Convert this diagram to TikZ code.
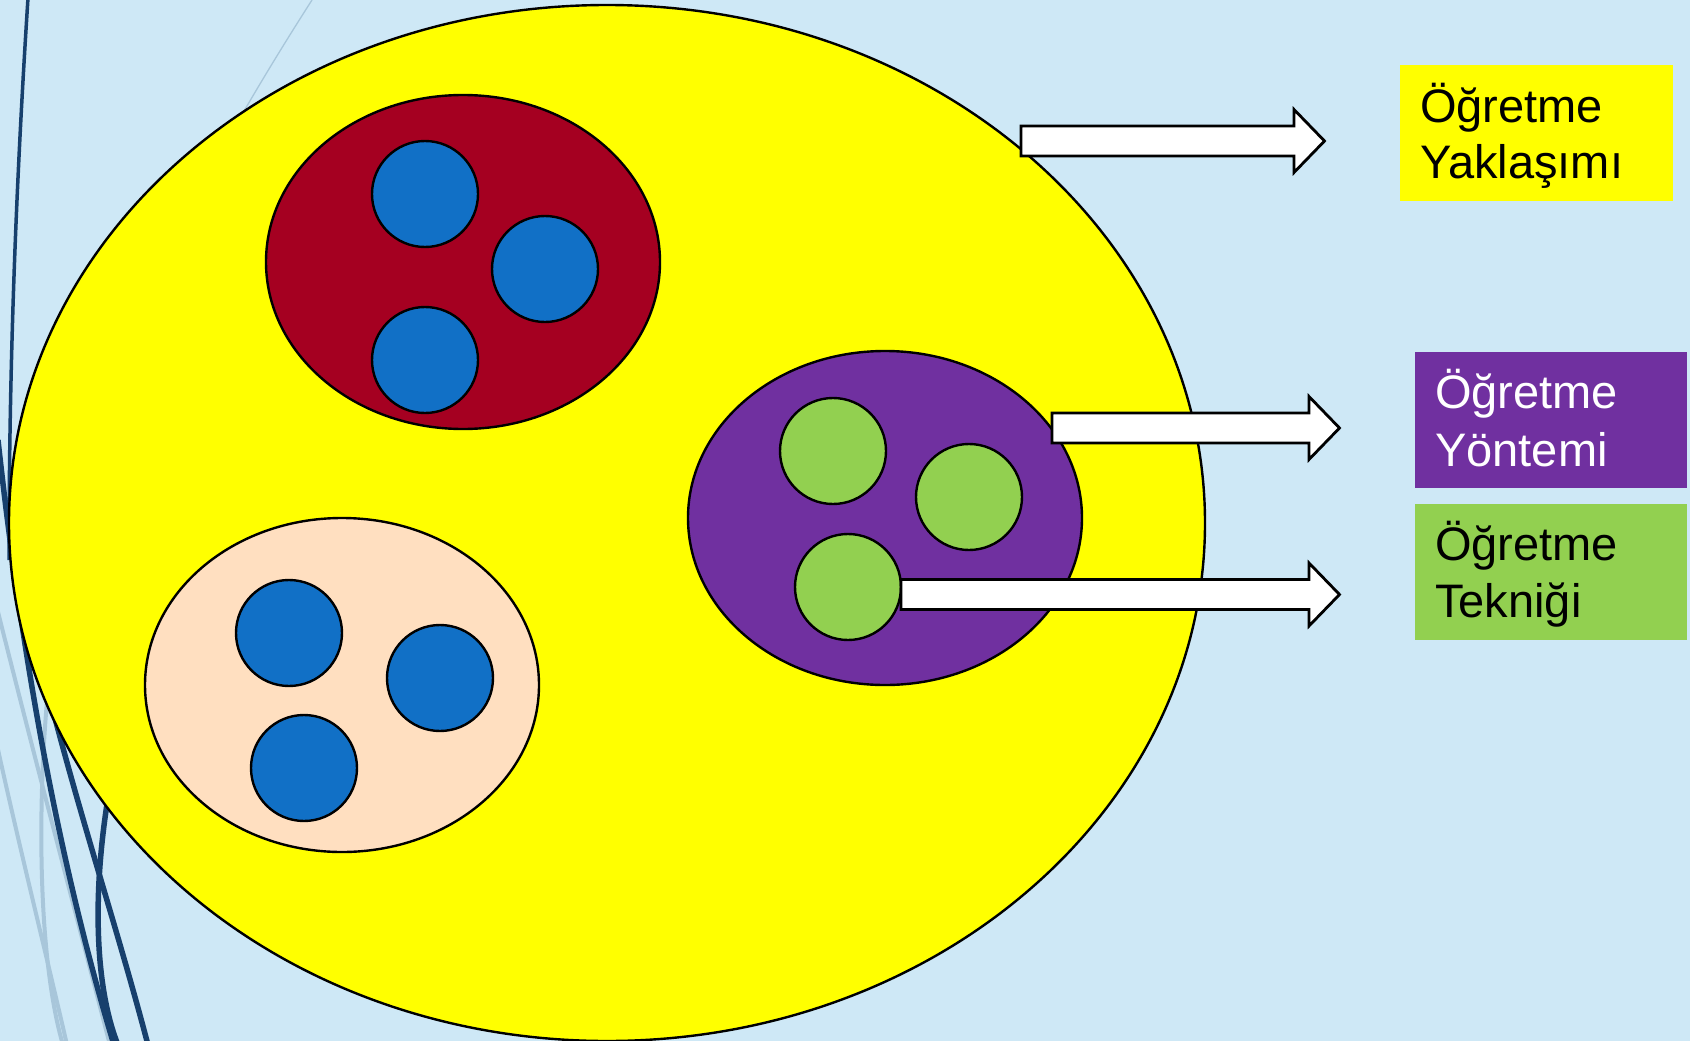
\documentclass[tikz,border=0pt]{standalone}
\usepackage{fontspec}
\setmainfont{Liberation Sans}
\usetikzlibrary{shapes.geometric}
\definecolor{bgblue}{RGB}{206,232,246}
\definecolor{navy}{RGB}{23,64,109}
\definecolor{wisp}{RGB}{168,198,218}
\definecolor{ylw}{RGB}{255,255,0}
\definecolor{wine}{RGB}{165,0,33}
\definecolor{peach}{RGB}{255,223,192}
\definecolor{plum}{RGB}{112,48,160}
\definecolor{leaf}{RGB}{146,208,80}
\definecolor{dotblue}{RGB}{17,112,198}
\tikzset{
  group/.style={ellipse, draw=black, line width=2.4pt, inner sep=0pt, minimum width=394pt, minimum height=334pt},
  ball/.style={circle, draw=black, line width=2.4pt, inner sep=0pt, minimum size=106pt},
  blockarrow/.style={draw=black, fill=white, line width=2.8pt, line join=miter},
  labelbox/.style={rectangle, inner sep=0pt, minimum width=273pt, minimum height=136pt, anchor=north west},
  labeltext/.style={anchor=base west, inner sep=0pt, font=\fontsize{47}{57}\selectfont},
  wispnavy/.style={draw=navy, line width=5.5pt},
  wisplight/.style={draw=wisp, line width=4pt},
}
\newcommand{\blockarrowpath}[2]{(#1) ++(0,-15) -- ++(#2,0) -- ++(0,-16.5) -- ++(30.5,31.5) -- ++(-30.5,31.5) -- ++(0,-16.5) -- ++(-#2,0) -- cycle}
\begin{document}
\begin{tikzpicture}[x=1pt,y=-1pt]
\useasboundingbox (0,0) rectangle (1690,1041);
\clip (0,0) rectangle (1690,1041);
\fill[bgblue] (0,0) rectangle (1690,1041);

% decorative wisps (behind the big ellipse)
\draw[wisp, line width=1.3pt] (312,0) .. controls (280,50) and (240,115) .. (200,190);
\draw[navy, line width=3.5pt] (28,-2) .. controls (15,200) and (9,380) .. (9,560);
\draw[wisplight] (-5,600) .. controls (30,740) and (80,930) .. (110,1045);
\draw[wisplight] (-3,745) .. controls (20,850) and (50,970) .. (67,1045);
\draw[wisplight] (50,670) .. controls (36,800) and (38,960) .. (63,1045);
\draw[wispnavy] (-2,440) .. controls (20,640) and (55,850) .. (114,1045);
\draw[wispnavy] (22,580) .. controls (60,760) and (110,900) .. (148,1045);
\draw[wispnavy] (115,760) .. controls (92,870) and (92,980) .. (118,1045);

% big ellipse
\node[ellipse, draw=black, line width=2.4pt, fill=ylw, inner sep=0pt,
      minimum width=1196pt, minimum height=1036pt] (big) at (607,523) {};

% groups
\node[group, fill=wine]  (red) at (463,262) {};
\node[group, fill=peach] (pch) at (342,685) {};
\node[group, fill=plum]  (prp) at (885,518) {};

\node[ball, fill=dotblue] (r1) at (425,194) {};
\node[ball, fill=dotblue] (r2) at (545,269) {};
\node[ball, fill=dotblue] (r3) at (425,360) {};
\node[ball, fill=dotblue] (p1) at (289,633) {};
\node[ball, fill=dotblue] (p2) at (440,678) {};
\node[ball, fill=dotblue] (p3) at (304,768) {};
\node[ball, fill=leaf] (g1) at (833,451) {};
\node[ball, fill=leaf] (g2) at (969,497) {};
\node[ball, fill=leaf] (g3) at (848,587) {};

% arrows
\coordinate (t1) at (1021,141);
\coordinate (t2) at (1052,428);
\coordinate (t3) at (901,594.5);
\draw[blockarrow] \blockarrowpath{t1}{273};
\draw[blockarrow] \blockarrowpath{t2}{257};
\draw[blockarrow] \blockarrowpath{t3}{408};

% label boxes
\node[labelbox, fill=ylw]  (bY) at (1400,65) {};
\node[labelbox, fill=plum, minimum width=272pt] (bP) at (1415,352) {};
\node[labelbox, fill=leaf, minimum width=272pt] (bG) at (1415,504) {};

\node[labeltext] (y1) at (1420,122) {Öğretme};
\node[labeltext] (y2) at (1420,178) {Yaklaşımı};
\node[labeltext, text=white] (pp1) at (1435,408) {Öğretme};
\node[labeltext, text=white] (pp2) at (1435,466) {Yöntemi};
\node[labeltext] (gg1) at (1435,560) {Öğretme};
\node[labeltext] (gg2) at (1435,617) {Tekniği};
\end{tikzpicture}
\end{document}
